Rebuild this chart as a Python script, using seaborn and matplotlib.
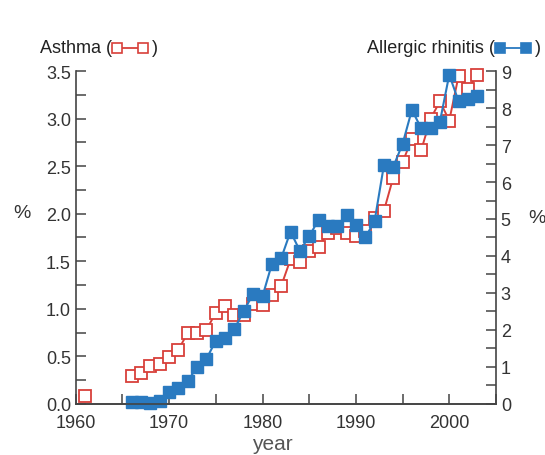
import matplotlib
matplotlib.use("Agg")
import matplotlib.pyplot as plt
from matplotlib.lines import Line2D
from matplotlib.ticker import MultipleLocator
import seaborn as sns

# Data
years = [1966, 1967, 1968, 1969, 1970, 1971, 1972, 1973, 1974, 1975,
         1976, 1977, 1978, 1979, 1980, 1981, 1982, 1983, 1984, 1985,
         1986, 1987, 1988, 1989, 1990, 1991, 1992, 1993, 1994, 1995,
         1996, 1997, 1998, 1999, 2000, 2001, 2002, 2003]

asthma = [0.29, 0.32, 0.40, 0.42, 0.49, 0.57, 0.75, 0.75, 0.78, 0.96,
          1.03, 0.94, 0.93, 1.05, 1.04, 1.15, 1.24, 1.52, 1.49, 1.61,
          1.65, 1.80, 1.85, 1.80, 1.77, 1.82, 1.96, 2.03, 2.38, 2.54,
          2.79, 2.67, 3.00, 3.18, 2.98, 3.45, 3.31, 3.46]

# lone early asthma survey
asthma_early_years = [1961]
asthma_early = [0.08]

rhinitis = [0.05, 0.05, 0.03, 0.09, 0.32, 0.42, 0.63, 0.99, 1.22, 1.71,
            1.78, 2.03, 2.52, 2.97, 2.91, 3.78, 3.94, 4.66, 4.14, 4.53,
            4.98, 4.82, 4.82, 5.11, 4.84, 4.50, 4.94, 6.45, 6.41, 7.03,
            7.95, 7.45, 7.47, 7.63, 8.90, 8.18, 8.25, 8.32]

RED = "#d8403a"
BLUE = "#2a7ac0"
GREY = "#444444"

sns.set_style("ticks")
plt.rcParams["font.family"] = ["Liberation Sans", "DejaVu Sans"]
plt.rcParams["axes.edgecolor"] = GREY
plt.rcParams["xtick.color"] = GREY
plt.rcParams["ytick.color"] = GREY

fig = plt.figure(figsize=(5.45, 4.56), dpi=100)
ax = fig.add_axes([0.139, 0.112, 0.771, 0.730])
ax2 = ax.twinx()

red_kw = dict(color=RED, marker="s", markersize=8.3, markerfacecolor="white",
              markeredgecolor=RED, markeredgewidth=1.3, linewidth=1.4,
              clip_on=False)
sns.lineplot(x=years, y=asthma, ax=ax, **red_kw)
sns.lineplot(x=asthma_early_years, y=asthma_early, ax=ax, **red_kw)

sns.lineplot(x=years, y=rhinitis, ax=ax2, color=BLUE, marker="s",
             markersize=8, markerfacecolor=BLUE, markeredgecolor=BLUE,
             markeredgewidth=1, linewidth=1.5, clip_on=False)

ax.set_xlim(1960, 2005)
ax.set_ylim(0, 3.5)
ax2.set_ylim(0, 9)

ax.xaxis.set_major_locator(MultipleLocator(10))
ax.xaxis.set_minor_locator(MultipleLocator(5))
ax.yaxis.set_major_locator(MultipleLocator(0.5))
ax.yaxis.set_minor_locator(MultipleLocator(0.25))
ax.yaxis.set_major_formatter(lambda v, p: f"{v:.1f}")
ax2.yaxis.set_major_locator(MultipleLocator(1))
ax2.yaxis.set_minor_locator(MultipleLocator(0.5))

for a in (ax, ax2):
    a.tick_params(which="both", direction="in", labelsize=13,
                  labelcolor="#333333", width=1.1)
    a.tick_params(which="major", length=7.5)
    a.tick_params(which="minor", length=7)
    for s in a.spines.values():
        s.set_linewidth(1.2)
    a.spines["top"].set_visible(False)
ax.spines["right"].set_visible(False)
ax2.spines["left"].set_visible(False)
ax.tick_params(axis="x", pad=7)

ax.set_xlabel("year", fontsize=15, color="#555555", labelpad=0)
ax.xaxis.set_label_coords(0.467, -0.09)
ax.set_ylabel("%", rotation=0, fontsize=14, color="#333333", va="center")
ax.yaxis.set_label_coords(-0.128, 0.574)
ax2.set_ylabel("%", rotation=0, fontsize=14, color="#333333", va="center")
ax2.yaxis.set_label_coords(1.098, 0.56)

# Series captions with little marker keys
def caption(x, y, label, color, face):
    t = fig.text(x, y, label, fontsize=13, color="#222222", va="center")
    fig.canvas.draw()
    bb = t.get_window_extent().transformed(fig.transFigure.inverted())
    x0 = bb.x1 + 0.009
    x1 = x0 + 0.048
    fig.add_artist(Line2D([x0, x1], [y, y], transform=fig.transFigure,
                          color=color, marker="s", markersize=6.5,
                          markerfacecolor=face, markeredgecolor=color,
                          markeredgewidth=1.2, linewidth=1.3))
    fig.text(x1 + 0.016, y, ")", fontsize=13, color="#222222", va="center")

caption(0.073, 0.893, "Asthma (", RED, "white")
caption(0.673, 0.893, "Allergic rhinitis (", BLUE, BLUE)

fig.savefig("out.png", dpi=100)
